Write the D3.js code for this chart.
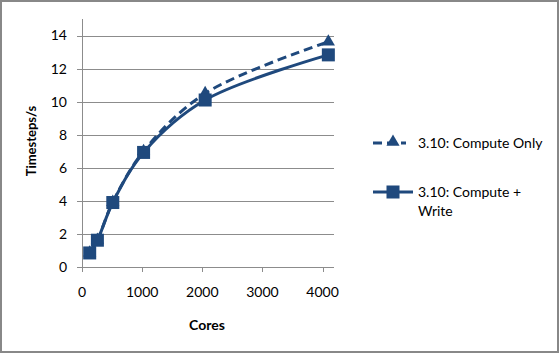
<html>
<head>
    <script src="https://d3js.org/d3.v7.min.js"></script>
    <style>
        body { margin: 0; background: #fff; }
        text { font-family: Lato, "Open Sans", sans-serif; fill: #000; }
    </style>
</head>
<body>
<svg id="chart" width="560" height="354"></svg>
<script>
    // values
    const cores = [128, 256, 512, 1024, 2048, 4096];
    const computeOnly = [0.86, 1.63, 3.92, 7.0, 10.5, 13.62];
    const computeWrite = [0.85, 1.62, 3.9, 6.93, 10.1, 12.83];
    const xTicks = [0, 1000, 2000, 3000, 4000];
    const yTicks = [0, 2, 4, 6, 8, 10, 12, 14];
    const seriesNames = ["3.10: Compute Only", "3.10: Compute +", "Write"];

    const color = "#1f497d";
    const svg = d3.select("#chart");

    // outer chart border
    svg.append("rect")
        .attr("x", 1).attr("y", 1)
        .attr("width", 557).attr("height", 351)
        .attr("fill", "#fff")
        .attr("stroke", "#888")
        .attr("stroke-width", 2);

    const margins = { top: 19, left: 82, right: 226, bottom: 87 };
    const chartWidth = 560 - margins.left - margins.right;
    const chartHeight = 354 - margins.top - margins.bottom;

    const xScale = d3.scaleLinear().domain([0, 4190]).range([0, chartWidth]);
    const yScale = d3.scaleLinear().domain([0, 15]).range([chartHeight, 0]);

    const chartArea = svg.append("g")
        .attr("transform", "translate(" + margins.left + "," + margins.top + ")");

    // horizontal gridlines
    chartArea.append("g")
        .selectAll("line").data(yTicks)
        .join("line")
        .attr("x1", -5).attr("x2", chartWidth)
        .attr("y1", d => Math.round(yScale(d)) + 0.5)
        .attr("y2", d => Math.round(yScale(d)) + 0.5)
        .attr("stroke", "#8c8c8c");

    // y axis
    chartArea.append("line")
        .attr("x1", 0.5).attr("x2", 0.5)
        .attr("y1", 0).attr("y2", chartHeight)
        .attr("stroke", "#8c8c8c");
    chartArea.append("g")
        .selectAll("text").data(yTicks)
        .join("text")
        .attr("x", -15)
        .attr("y", d => yScale(d))
        .attr("dy", "0.35em")
        .attr("text-anchor", "end")
        .attr("font-size", 14)
        .text(d => d);

    // x axis ticks and labels
    chartArea.append("g")
        .selectAll("line").data(xTicks)
        .join("line")
        .attr("x1", d => Math.round(xScale(d)) + 0.5)
        .attr("x2", d => Math.round(xScale(d)) + 0.5)
        .attr("y1", chartHeight).attr("y2", chartHeight + 5)
        .attr("stroke", "#8c8c8c");
    chartArea.append("g")
        .selectAll("text").data(xTicks)
        .join("text")
        .attr("x", d => xScale(d))
        .attr("y", chartHeight + 25)
        .attr("dy", "0.35em")
        .attr("text-anchor", "middle")
        .attr("font-size", 14)
        .text(d => d);

    // axis titles
    svg.append("text")
        .attr("x", margins.left + chartWidth / 2 - 1)
        .attr("y", 325)
        .attr("dy", "0.35em")
        .attr("text-anchor", "middle")
        .attr("font-size", 14)
        .attr("font-weight", "bold")
        .text("Cores");
    svg.append("text")
        .attr("transform", "translate(31,141) rotate(-90)")
        .attr("dy", "0.35em")
        .attr("text-anchor", "middle")
        .attr("font-size", 13)
        .attr("font-weight", "bold")
        .text("Timesteps/s");

    const line = (vals) => d3.line()
        .x((d, i) => xScale(cores[i]))
        .y(d => yScale(d))
        .curve(d3.curveCatmullRom.alpha(0.5))(vals);

    // compute only: dashed with triangles
    chartArea.append("path")
        .attr("d", line(computeOnly))
        .attr("fill", "none")
        .attr("stroke", color)
        .attr("stroke-width", 3)
        .attr("stroke-dasharray", "9,5");

    // compute + write: solid with squares
    chartArea.append("path")
        .attr("d", line(computeWrite))
        .attr("fill", "none")
        .attr("stroke", color)
        .attr("stroke-width", 3);

    const tri = d3.symbol().type(d3.symbolTriangle).size(75);
    chartArea.append("g")
        .selectAll("path").data(computeOnly)
        .join("path")
        .attr("d", tri)
        .attr("transform", (d, i) => "translate(" + xScale(cores[i]) + "," + yScale(d) + ")")
        .attr("fill", color);

    chartArea.append("g")
        .selectAll("rect").data(computeWrite)
        .join("rect")
        .attr("x", (d, i) => xScale(cores[i]) - 6.5)
        .attr("y", d => yScale(d) - 6.5)
        .attr("width", 13).attr("height", 13)
        .attr("fill", color);

    // legend
    const legend = svg.append("g");
    legend.append("line")
        .attr("x1", 373).attr("x2", 406)
        .attr("y1", 143).attr("y2", 143)
        .attr("stroke", color).attr("stroke-width", 3)
        .attr("stroke-dasharray", "9,5");
    legend.append("path")
        .attr("d", tri)
        .attr("transform", "translate(393,142)")
        .attr("fill", color);
    legend.append("line")
        .attr("x1", 373).attr("x2", 413)
        .attr("y1", 192).attr("y2", 192)
        .attr("stroke", color).attr("stroke-width", 3);
    legend.append("rect")
        .attr("x", 386.5).attr("y", 185.5)
        .attr("width", 13).attr("height", 13)
        .attr("fill", color);
    legend.selectAll("text.lbl").data(seriesNames)
        .join("text")
        .attr("class", "lbl")
        .attr("x", 418)
        .attr("y", (d, i) => [143, 192, 211][i])
        .attr("dy", "0.35em")
        .attr("font-size", 14)
        .text(d => d);
</script>
</body>
</html>
